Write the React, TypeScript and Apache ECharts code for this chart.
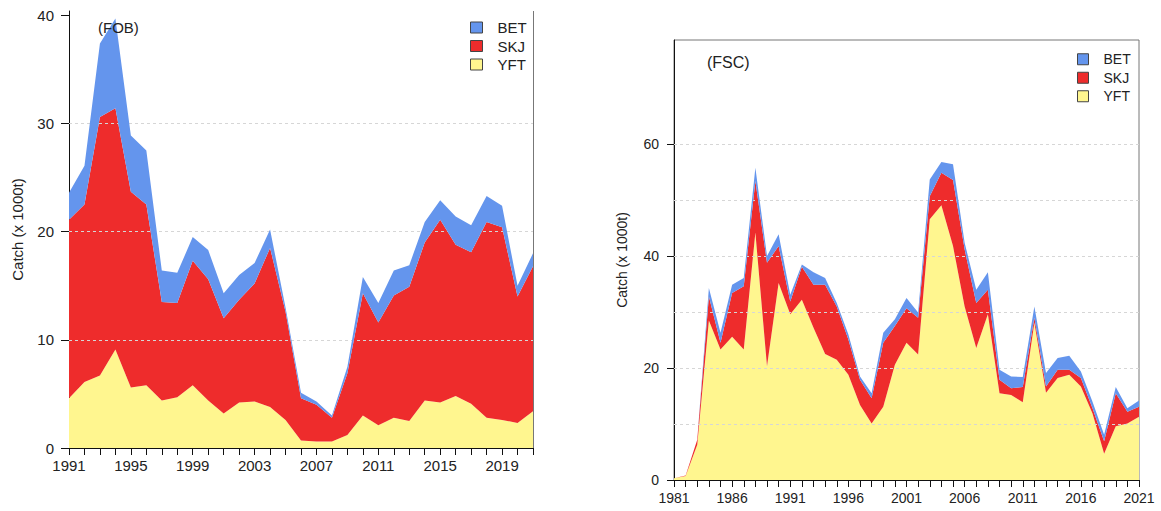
import React, { useEffect, useRef } from "react";
import * as echarts from "echarts";

const fobYears = ["1991","1992","1993","1994","1995","1996","1997","1998","1999","2000","2001","2002","2003","2004","2005","2006","2007","2008","2009","2010","2011","2012","2013","2014","2015","2016","2017","2018","2019","2020","2021"];
const fobYFT = [4.6,6.1,6.7,9.1,5.6,5.8,4.4,4.7,5.8,4.4,3.2,4.2,4.3,3.8,2.6,0.7,0.6,0.6,1.2,3.0,2.1,2.8,2.5,4.4,4.2,4.8,4.1,2.8,2.6,2.3,3.4];
const fobSKJ = [16.5,16.4,23.9,22.3,18.1,16.7,9.1,8.7,11.5,11.2,8.8,9.5,10.9,14.7,10.0,3.9,3.4,2.2,5.7,11.3,9.5,11.3,12.4,14.6,16.9,14.0,14.0,18.1,17.8,11.7,13.4];
const fobBET = [2.5,3.6,6.8,8.3,5.2,5.0,2.9,2.8,2.2,2.7,2.3,2.3,1.9,1.7,0.4,0.5,0.3,0.2,0.6,1.5,1.8,2.3,2.0,1.9,1.8,2.6,2.5,2.4,2.0,1.0,1.2];

const fscYears = ["1981","1982","1983","1984","1985","1986","1987","1988","1989","1990","1991","1992","1993","1994","1995","1996","1997","1998","1999","2000","2001","2002","2003","2004","2005","2006","2007","2008","2009","2010","2011","2012","2013","2014","2015","2016","2017","2018","2019","2020","2021"];
const fscYFT = [0.3,0.7,6.3,28.5,23.3,25.6,23.3,44.2,20.3,35.2,29.6,32.2,27.2,22.5,21.5,18.8,13.4,10.1,13.1,20.6,24.5,22.4,46.6,49.1,41.8,31.0,23.6,29.6,15.5,15.2,13.9,28.1,15.6,18.2,18.8,16.7,11.9,4.7,9.6,10.1,11.3];
const fscSKJ = [0.0,0.1,0.9,4.3,1.2,7.8,11.3,9.2,18.5,6.6,2.3,5.9,7.7,12.4,9.5,6.3,4.5,4.5,11.4,6.9,6.2,6.6,4.1,5.8,11.8,10.2,8.0,4.4,2.4,1.2,2.7,0.9,1.1,1.5,0.9,1.5,0.9,2.2,5.9,2.1,1.8];
const fscBET = [0,0,0,1.5,1.8,1.5,1.5,2.4,1.2,2.1,1.2,0.4,2.2,1.2,0.6,0.9,0.6,0.9,1.8,1.2,1.8,0.9,3.0,1.9,2.8,1.2,2.4,3.1,1.8,2.1,1.8,2.0,2.4,2.1,2.5,1.2,1.2,1.2,1.1,0.6,1.1];

const fobYTicks = [0, 10, 20, 30, 40];
const fscYTicks = [0, 20, 40, 60];
const fobGridValues = [10, 20, 30];
const fscGridValues = [10, 20, 30, 40, 50, 60];
const speciesNames = ["BET", "SKJ", "YFT"];

const COLORS: Record<string, string> = { YFT: "#FFF68F", SKJ: "#EE2C2C", BET: "#6495ED" };
const FONT = "Liberation Sans, Arial, Helvetica, sans-serif";
const TXT = "#222";

function areaSeries(name: string, data: number[], stack: string, idx: number, gridVals?: number[]) {
  const s: any = {
    name,
    type: "line",
    stack,
    xAxisIndex: idx,
    yAxisIndex: idx,
    data,
    showSymbol: false,
    symbol: "none",
    lineStyle: { width: 0, opacity: 0 },
    areaStyle: { color: COLORS[name], opacity: 1 },
    itemStyle: { color: COLORS[name] },
    emphasis: { disabled: true },
    silent: true,
  };
  if (gridVals) {
    s.z = 5;
    s.markLine = {
      silent: true,
      symbol: ["none", "none"],
      label: { show: false },
      lineStyle: { color: "#d6d6d6", type: [3, 3], width: 1 },
      emphasis: { disabled: true },
      data: gridVals.map((v) => ({ yAxis: v })),
    };
  }
  return s;
}

export default function App() {
  const ref = useRef<HTMLDivElement>(null);
  useEffect(() => {
    if (!ref.current) return;
    const chart = echarts.init(ref.current, undefined, { renderer: "svg" });
    const option: any = {
      animation: false,
      textStyle: { fontFamily: FONT },
      grid: [
        { left: 69, top: 11, width: 464, height: 437, show: false },
        { left: 674, top: 40, width: 465, height: 440, show: true, borderColor: "#777", borderWidth: 1, backgroundColor: "transparent" },
      ],
      xAxis: [
        {
          type: "category", gridIndex: 0, data: fobYears, boundaryGap: false,
          axisLine: { lineStyle: { color: "#111", width: 1 } },
          axisTick: { interval: 0, length: 7, lineStyle: { color: "#111" } },
          axisLabel: { interval: 3, margin: 10, fontSize: 15, color: TXT, fontFamily: FONT },
          splitLine: { show: false },
        },
        {
          type: "category", gridIndex: 1, data: fscYears, boundaryGap: false,
          axisLine: { lineStyle: { color: "#111", width: 1 } },
          axisTick: { interval: 0, length: 7, lineStyle: { color: "#111" } },
          axisLabel: { interval: 4, margin: 11, fontSize: 14, color: TXT, fontFamily: FONT },
          splitLine: { show: false },
        },
      ],
      yAxis: [
        {
          type: "value", gridIndex: 0, min: 0, max: 40.4,
          name: "Catch (x 1000t)", nameLocation: "middle", nameGap: 44, nameRotate: 90,
          nameTextStyle: { fontSize: 15, color: TXT, fontFamily: FONT },
          axisLine: { show: true, lineStyle: { color: "#111", width: 1 } },
          axisTick: { show: true, length: 8, customValues: fobYTicks, lineStyle: { color: "#111" } },
          axisLabel: { margin: 15, fontSize: 15, color: TXT, customValues: fobYTicks, fontFamily: FONT },
          splitLine: { show: false },
        },
        {
          type: "value", gridIndex: 1, min: 0, max: 78.6,
          name: "Catch (x 1000t)", nameLocation: "middle", nameGap: 45, nameRotate: 90,
          nameTextStyle: { fontSize: 14, color: TXT, fontFamily: FONT },
          axisLine: { show: true, lineStyle: { color: "#111", width: 1 } },
          axisTick: { show: true, length: 7, customValues: fscYTicks, lineStyle: { color: "#111" } },
          axisLabel: { margin: 15, fontSize: 14, color: TXT, customValues: fscYTicks, fontFamily: FONT },
          splitLine: { show: false },
        },
      ],
      legend: [
        {
          data: speciesNames, orient: "vertical", left: 470, top: 20, padding: 0,
          itemWidth: 12, itemHeight: 11, itemGap: 3.5, icon: "rect", selectedMode: false,
          itemStyle: { borderColor: "#444", borderWidth: 1 },
          textStyle: { fontSize: 15, color: TXT, lineHeight: 15, padding: [0, 0, 0, 10], fontFamily: FONT },
        },
        {
          data: speciesNames, orient: "vertical", left: 1077, top: 52, padding: 0,
          itemWidth: 11, itemHeight: 11, itemGap: 4, icon: "rect", selectedMode: false,
          itemStyle: { borderColor: "#444", borderWidth: 1 },
          textStyle: { fontSize: 14, color: TXT, lineHeight: 14.5, padding: [0, 0, 0, 10], fontFamily: FONT },
        },
      ],
      graphic: [
        { type: "line", shape: { x1: 533.5, y1: 11, x2: 533.5, y2: 448 }, style: { stroke: "#777", lineWidth: 1 }, z: 10 },
        { type: "text", left: 98, top: 20, z: 20, style: { text: "(FOB)", fontSize: 15, fill: TXT, fontFamily: FONT } },
        { type: "text", left: 707, top: 54, z: 20, style: { text: "(FSC)", fontSize: 16, fill: TXT, fontFamily: FONT } },
      ],
      series: [
        areaSeries("YFT", fobYFT, "fob", 0),
        areaSeries("SKJ", fobSKJ, "fob", 0),
        areaSeries("BET", fobBET, "fob", 0, fobGridValues),
        areaSeries("YFT", fscYFT, "fsc", 1),
        areaSeries("SKJ", fscSKJ, "fsc", 1),
        areaSeries("BET", fscBET, "fsc", 1, fscGridValues),
      ],
    };
    chart.setOption(option);
    return () => chart.dispose();
  }, []);
  return (
    <div
      ref={ref}
      style={{ position: "fixed", left: 0, top: 0, width: 1161, height: 511, background: "#fff" }}
    />
  );
}
